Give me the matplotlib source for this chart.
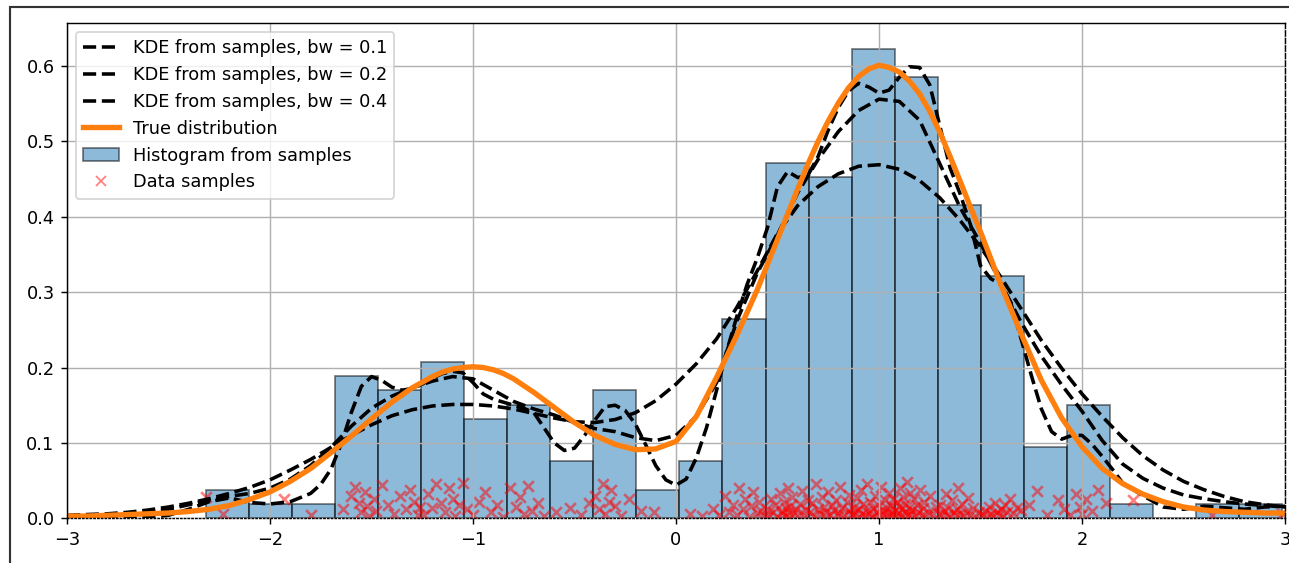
import numpy as np
from matplotlib import pyplot as plt
from matplotlib.lines import Line2D
from matplotlib.patches import Patch, Rectangle

# curves
grid_x = [round(-3.0 + 0.1 * i, 1) for i in range(61)]

true_x = [-3.0, -2.9, -2.8, -2.7, -2.6, -2.5, -2.4, -2.3, -2.2, -2.1, -2.0,
          -1.9, -1.8, -1.7, -1.6, -1.5, -1.4, -1.3, -1.2, -1.15, -1.1, -1.05,
          -1.0, -0.95, -0.9, -0.85, -0.8, -0.7, -0.6, -0.5, -0.4, -0.3, -0.2,
          -0.1, 0.0, 0.1, 0.2, 0.3, 0.4, 0.5, 0.6, 0.65, 0.7, 0.75, 0.8, 0.85,
          0.9, 0.95, 1.0, 1.05, 1.1, 1.15, 1.2, 1.25, 1.3, 1.35, 1.4, 1.45,
          1.5, 1.6, 1.7, 1.8, 1.9, 2.0, 2.1, 2.2, 2.3, 2.4, 2.5, 2.6, 2.7, 2.8,
          2.9, 3.0]
true_pdf = [0.003, 0.003, 0.004, 0.005, 0.006, 0.007, 0.009, 0.012, 0.017, 0.025, 0.035,
            0.049, 0.066, 0.087, 0.109, 0.132, 0.154, 0.173, 0.188, 0.194, 0.198, 0.200,
            0.201, 0.200, 0.197, 0.192, 0.185, 0.167, 0.147, 0.127, 0.110, 0.098, 0.091,
            0.092, 0.102, 0.135, 0.187, 0.243, 0.303, 0.370, 0.437, 0.470, 0.500, 0.527, 0.551, 0.571,
            0.586, 0.596, 0.601, 0.598, 0.592, 0.580, 0.563, 0.540, 0.512, 0.480, 0.447, 0.413,
            0.380, 0.310, 0.245, 0.183, 0.133, 0.095, 0.066, 0.046, 0.032, 0.022, 0.015, 0.011, 0.009, 0.008,
            0.007, 0.007]

kde_bw04 = [0.004, 0.005, 0.006, 0.008, 0.011, 0.015, 0.020, 0.026, 0.033, 0.041,
            0.051, 0.064, 0.078, 0.094, 0.110, 0.124, 0.136, 0.144, 0.149, 0.151,
            0.151, 0.149, 0.145, 0.139, 0.133, 0.128, 0.127, 0.131, 0.140, 0.156,
            0.178, 0.205, 0.238, 0.280, 0.328, 0.378, 0.415, 0.440, 0.457, 0.467,
            0.469, 0.463, 0.448, 0.425, 0.395, 0.360, 0.320, 0.278, 0.236, 0.199,
            0.165, 0.135, 0.107, 0.083, 0.064, 0.049, 0.038, 0.029, 0.022, 0.018,
            0.015]

kde_bw02 = [0.002, 0.002, 0.003, 0.005, 0.008, 0.012, 0.018, 0.024, 0.029, 0.033,
            0.040, 0.052, 0.070, 0.094, 0.122, 0.146, 0.162, 0.173, 0.182, 0.188,
            0.185, 0.170, 0.155, 0.145, 0.137, 0.127, 0.119, 0.115, 0.107, 0.103,
            0.110, 0.135, 0.180, 0.262, 0.325, 0.376, 0.432, 0.476, 0.513, 0.541,
            0.556, 0.553, 0.528, 0.470, 0.412, 0.365, 0.312, 0.260, 0.215, 0.177,
            0.142, 0.103, 0.072, 0.053, 0.040, 0.031, 0.026, 0.022, 0.019, 0.017,
            0.015]

kde_bw01_x = [-3.0, -2.6, -2.5, -2.4, -2.3, -2.2, -2.1, -2.0, -1.9, -1.8, -1.75,
              -1.7, -1.65, -1.6, -1.55, -1.5, -1.45, -1.4, -1.35, -1.3, -1.25,
              -1.2, -1.15, -1.1, -1.05, -1.0, -0.95, -0.9, -0.85, -0.8, -0.75,
              -0.7, -0.65, -0.6, -0.55, -0.5, -0.45, -0.4, -0.35, -0.3, -0.25,
              -0.2, -0.15, -0.1, -0.05, 0.0, 0.05, 0.1, 0.15, 0.2, 0.25, 0.3,
              0.35, 0.4, 0.45, 0.5, 0.55, 0.6, 0.65, 0.7, 0.75, 0.8, 0.85, 0.9,
              0.95, 1.0, 1.05, 1.1, 1.15, 1.2, 1.25, 1.3, 1.35, 1.4, 1.45, 1.5,
              1.55, 1.6, 1.65, 1.7, 1.75, 1.8, 1.85, 1.9, 1.95, 2.0, 2.05, 2.1,
              2.15, 2.2, 2.3, 2.4, 2.5, 2.6, 2.7, 2.8, 2.9, 3.0]
kde_bw01 = [0.000, 0.001, 0.004, 0.012, 0.022, 0.027, 0.021, 0.019, 0.022, 0.033, 0.045,
            0.065, 0.098, 0.140, 0.175, 0.188, 0.183, 0.174, 0.170, 0.172, 0.178,
            0.186, 0.192, 0.195, 0.193, 0.180, 0.165, 0.158, 0.154, 0.150, 0.146,
            0.140, 0.120, 0.100, 0.090, 0.093, 0.110, 0.130, 0.148, 0.150, 0.143,
            0.125, 0.098, 0.070, 0.051, 0.044, 0.052, 0.080, 0.120, 0.170, 0.222, 0.268,
            0.310, 0.345, 0.385, 0.440, 0.460, 0.452, 0.455, 0.480, 0.515, 0.545, 0.567, 0.577,
            0.572, 0.564, 0.568, 0.585, 0.599, 0.598, 0.575, 0.520, 0.465, 0.430, 0.390, 0.335,
            0.318, 0.310, 0.285, 0.238, 0.190, 0.145, 0.115, 0.105, 0.110, 0.110, 0.098, 0.082,
            0.065, 0.047, 0.030, 0.015, 0.012, 0.016, 0.014, 0.012, 0.015, 0.016]

# data samples (x position, small vertical offset used for display)
samples_x = [
    -2.315, -2.23,
    -1.93,
    -1.80,
    -1.64, -1.60, -1.58, -1.56, -1.55, -1.53, -1.52, -1.51, -1.49, -1.48,
    -1.45, -1.42, -1.39, -1.36, -1.33, -1.31, -1.29, -1.27, -1.26,
    -1.24, -1.22, -1.20, -1.18, -1.16, -1.14, -1.12, -1.10, -1.09, -1.07, -1.05,
    -1.03, -1.00, -0.97, -0.94, -0.91, -0.88, -0.85,
    -0.82, -0.79, -0.77, -0.75, -0.73, -0.71, -0.68, -0.65,
    -0.59, -0.52, -0.47, -0.43,
    -0.40, -0.38, -0.36, -0.35, -0.33, -0.32, -0.30, -0.27, -0.23,
    -0.17, -0.11,
    0.07, 0.13, 0.18, 0.21,
    0.24, 0.26, 0.28, 0.30, 0.31, 0.33, 0.34, 0.36, 0.37, 0.38, 0.40, 0.41, 0.42, 0.435,
    0.45, 0.46, 0.47, 0.48, 0.49, 0.50, 0.51, 0.52, 0.52, 0.53, 0.54, 0.54, 0.55,
    0.55, 0.56, 0.56, 0.57, 0.58, 0.59, 0.60, 0.61, 0.62, 0.63, 0.64, 0.65,
    0.66, 0.67, 0.68, 0.69, 0.70, 0.71, 0.72, 0.73, 0.74, 0.74, 0.75, 0.76,
    0.77, 0.78, 0.79, 0.80, 0.80, 0.81, 0.82, 0.83, 0.84, 0.85, 0.85, 0.86,
    0.87, 0.875, 0.88, 0.89, 0.895, 0.90, 0.91, 0.915, 0.92, 0.93, 0.935,
    0.94, 0.95, 0.955, 0.96, 0.97, 0.975, 0.98, 0.99, 0.995, 1.00, 1.01,
    1.015, 1.02, 1.03, 1.035, 1.04, 1.045, 1.05, 1.055, 1.06, 1.065, 1.07,
    1.08, 1.085, 1.09, 1.095, 1.10, 1.105, 1.11, 1.115, 1.12, 1.125, 1.13,
    1.135, 1.14, 1.145, 1.15, 1.155, 1.16, 1.165, 1.17, 1.18, 1.185,
    1.19, 1.20, 1.21, 1.215, 1.22, 1.23, 1.24, 1.25, 1.265, 1.28,
    1.295, 1.30, 1.31, 1.32, 1.33, 1.335, 1.34, 1.35, 1.36, 1.37, 1.38,
    1.385, 1.39, 1.40, 1.41, 1.42, 1.43, 1.44, 1.45, 1.465, 1.48, 1.495,
    1.51, 1.52, 1.53, 1.54, 1.55, 1.56, 1.57, 1.58, 1.59, 1.60, 1.61, 1.62,
    1.63, 1.645, 1.66, 1.68, 1.70,
    1.74, 1.78, 1.83, 1.88, 1.91,
    1.94, 1.97, 1.99, 2.00, 2.02, 2.05, 2.08, 2.12,
    2.25,
    2.64,
    2.985,
]
samples_y = [
    0.028, 0.006,
    0.025,
    0.004,
    0.012, 0.030, 0.041, 0.020, 0.008, 0.035, 0.016, 0.003, 0.025, 0.010,
    0.044, 0.018, 0.006, 0.030, 0.012, 0.038, 0.022, 0.004, 0.015,
    0.005, 0.032, 0.014, 0.045, 0.020, 0.009, 0.040, 0.026, 0.003, 0.017, 0.047,
    0.012, 0.004, 0.022, 0.035, 0.008, 0.018, 0.002,
    0.040, 0.015, 0.028, 0.006, 0.043, 0.010, 0.020, 0.003,
    0.008, 0.014, 0.004, 0.020,
    0.030, 0.012, 0.045, 0.006, 0.022, 0.038, 0.016, 0.003, 0.026,
    0.010, 0.009,
    0.006, 0.003, 0.012, 0.005,
    0.030, 0.008, 0.018, 0.004, 0.040, 0.012, 0.025, 0.002, 0.016, 0.035, 0.007, 0.021, 0.010, 0.003,
    0.012, 0.004, 0.026, 0.008, 0.018, 0.002, 0.033, 0.010, 0.006, 0.022, 0.014, 0.003, 0.040,
    0.009, 0.016, 0.001, 0.028, 0.007, 0.012, 0.004, 0.019, 0.036, 0.005, 0.011, 0.024,
    0.008, 0.020, 0.003, 0.045, 0.012, 0.006, 0.028, 0.015, 0.002, 0.009, 0.035, 0.005,
    0.018, 0.011, 0.024, 0.003, 0.007, 0.042, 0.013, 0.004, 0.021, 0.010, 0.031, 0.006,
    0.004, 0.015, 0.009, 0.027, 0.002, 0.012, 0.038, 0.006, 0.019, 0.003, 0.010,
    0.046, 0.007, 0.022, 0.001, 0.014, 0.005, 0.030, 0.008, 0.017, 0.003, 0.041,
    0.011, 0.006, 0.024, 0.002, 0.013, 0.009, 0.033, 0.004, 0.018, 0.007, 0.026,
    0.010, 0.003, 0.022, 0.007, 0.016, 0.040, 0.005, 0.012, 0.028, 0.002, 0.019,
    0.008, 0.048, 0.004, 0.014, 0.033, 0.006, 0.011, 0.025, 0.003, 0.017,
    0.009, 0.038, 0.005, 0.013, 0.021, 0.002, 0.008, 0.030, 0.006, 0.015,
    0.006, 0.018, 0.003, 0.010, 0.032, 0.005, 0.014, 0.002, 0.024, 0.008, 0.004,
    0.012, 0.040, 0.006, 0.019, 0.003, 0.009, 0.027, 0.005, 0.013, 0.002, 0.008,
    0.004, 0.010, 0.002, 0.015, 0.006, 0.003, 0.020, 0.008, 0.005, 0.012, 0.003, 0.018,
    0.009, 0.025, 0.007, 0.014, 0.011,
    0.017, 0.036, 0.005, 0.024, 0.012,
    0.004, 0.032, 0.015, 0.006, 0.025, 0.010, 0.038, 0.020,
    0.024,
    0.004,
    0.006,
]

n_bins = 25
bandwidths = [0.1, 0.2, 0.4]

DPI = 128
fig = plt.figure(figsize=(1289 / DPI, 563 / DPI), dpi=DPI)
ax = fig.add_axes([67 / 1289, 44.7 / 563, 1218 / 1289, 495.3 / 563])

kde_curves = [(kde_bw01_x, kde_bw01), (grid_x, kde_bw02), (grid_x, kde_bw04)]
for (xs, ys), bw in zip(kde_curves, bandwidths):
    ax.plot(xs, ys, 'k--', lw=2, label=f'KDE from samples, bw = {bw}')

ax.plot(true_x, true_pdf, color='C1', lw=3, label='True distribution')
ax.hist(samples_x, bins=n_bins, density=True, alpha=0.5, color='C0',
        edgecolor='k', label='Histogram from samples')
ax.scatter(samples_x, samples_y, marker='x', color='red', alpha=0.5,
           label='Data samples')

ax.set_xlim(-3, 3)
ax.set_ylim(0, 0.657)
ax.grid(True)
ax.spines['bottom'].set_linestyle(':')
ax.spines['right'].set_linestyle('--')

handles = [Line2D([], [], color='k', ls='--', lw=2) for _ in bandwidths]
handles += [Line2D([], [], color='C1', lw=3),
            Patch(facecolor='C0', alpha=0.5, edgecolor='k'),
            Line2D([], [], ls='none', marker='x', color='red', alpha=0.5)]
labels = [f'KDE from samples, bw = {bw}' for bw in bandwidths]
labels += ['True distribution', 'Histogram from samples', 'Data samples']
ax.legend(handles, labels, loc='upper left')

# outer frame of the original screenshot
fig.add_artist(Rectangle((10 / 1289, -0.1), 1.0, 1.0 + 0.1 - 7 / 563,
                         transform=fig.transFigure, fill=False,
                         edgecolor='#333333', lw=1.2))

fig.savefig('out.png', dpi=DPI)
